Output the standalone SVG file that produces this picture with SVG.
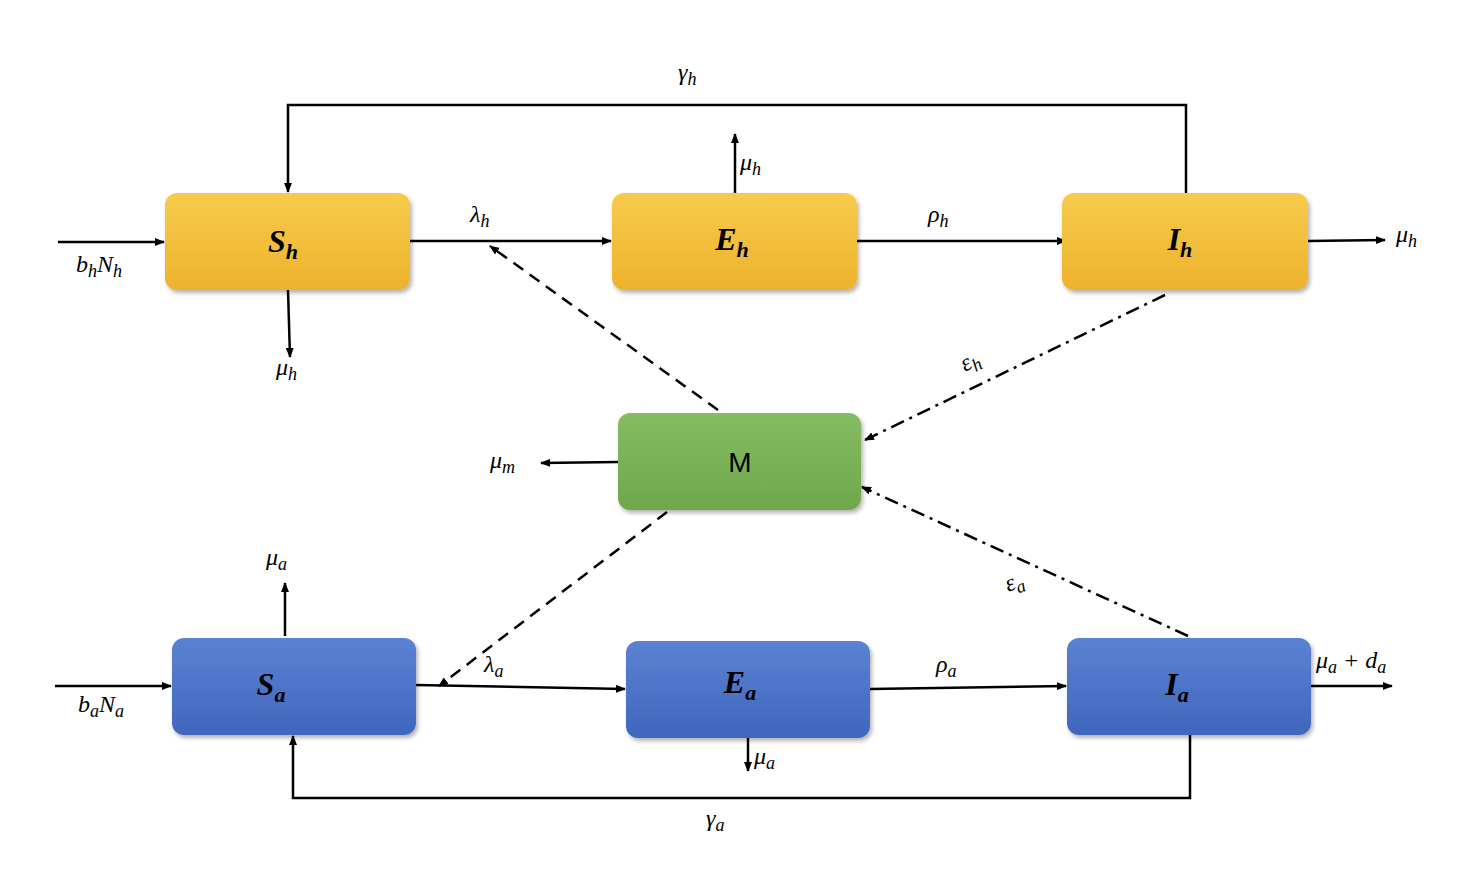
<svg xmlns="http://www.w3.org/2000/svg" width="1472" height="888" viewBox="0 0 1472 888">
<defs>
<linearGradient id="gy" x1="0" y1="0" x2="0" y2="1"><stop offset="0" stop-color="#F8CB4C"/><stop offset="1" stop-color="#ECB22C"/></linearGradient>
<linearGradient id="gb" x1="0" y1="0" x2="0" y2="1"><stop offset="0" stop-color="#5B82D2"/><stop offset="1" stop-color="#3F66BD"/></linearGradient>
<linearGradient id="gg" x1="0" y1="0" x2="0" y2="1"><stop offset="0" stop-color="#86BC63"/><stop offset="1" stop-color="#6EA84C"/></linearGradient>
<marker id="a" markerWidth="10" markerHeight="8" refX="9" refY="4" orient="auto" markerUnits="userSpaceOnUse"><path d="M0,0 L10,4 L0,8 Z" fill="#000"/></marker>
<filter id="sh" x="-10%" y="-10%" width="120%" height="130%"><feDropShadow dx="2" dy="3" stdDeviation="2" flood-opacity="0.3"/></filter>
</defs>
<style>
.box{filter:url(#sh)}
.t{font-family:"Liberation Serif",serif;font-style:italic;font-size:24px;fill:#000}
.b{font-family:"Liberation Serif",serif;font-style:italic;font-weight:bold;font-size:32px;fill:#000;text-anchor:middle}
.l{stroke:#000;stroke-width:2.5;fill:none;marker-end:url(#a)}
.d{stroke-dasharray:12,8}
.dd{stroke-dasharray:14,6,3,6}
</style>
<g id="connectors">
<path class="l" d="M1186,193 V105 H288 V192"/>
<path class="l" d="M735,193 V134"/>
<path class="l" d="M288,290 L290,357"/>
<path class="l" d="M58,242 H164"/>
<path class="l" d="M410,241 H611"/>
<path class="l" d="M857,241 H1066"/>
<path class="l" d="M1308,241 L1385,240"/>
<path class="l d" d="M718,410 L490,246"/>
<path class="l dd" d="M1165,295 L865,440"/>
<path class="l" d="M618,462 L541,463"/>
<path class="l d" d="M667,512 L439,686"/>
<path class="l dd" d="M1188,636 L862,487"/>
<path class="l" d="M285,636 V583"/>
<path class="l" d="M55,686 H171"/>
<path class="l" d="M416,685 L625,689"/>
<path class="l" d="M748,738 V771"/>
<path class="l" d="M870,689 L1066,686"/>
<path class="l" d="M1311,686 H1392"/>
<path class="l" d="M1190,735 V798 H293 V736"/>
</g>
<g id="Sh"><rect class="box" x="165" y="193" width="245" height="97" rx="12" fill="url(#gy)"/><text class="b" x="283" y="252">S<tspan font-size="22" dy="7">h</tspan></text></g>
<g id="Eh"><rect class="box" x="612" y="193" width="245" height="97" rx="12" fill="url(#gy)"/><text class="b" x="732" y="250">E<tspan font-size="22" dy="7">h</tspan></text></g>
<g id="Ih"><rect class="box" x="1062" y="193" width="246" height="97" rx="12" fill="url(#gy)"/><text class="b" x="1180" y="250">I<tspan font-size="22" dy="7">h</tspan></text></g>
<g id="M"><rect class="box" x="618" y="413" width="243" height="97" rx="12" fill="url(#gg)"/><text x="740" y="472" font-family="Liberation Sans,sans-serif" font-size="28" text-anchor="middle">M</text></g>
<g id="Sa"><rect class="box" x="172" y="638" width="244" height="97" rx="12" fill="url(#gb)"/><text class="b" x="271" y="695">S<tspan font-size="22" dy="7">a</tspan></text></g>
<g id="Ea"><rect class="box" x="626" y="641" width="244" height="97" rx="12" fill="url(#gb)"/><text class="b" x="740" y="693">E<tspan font-size="22" dy="7">a</tspan></text></g>
<g id="Ia"><rect class="box" x="1067" y="638" width="244" height="97" rx="12" fill="url(#gb)"/><text class="b" x="1177" y="695">I<tspan font-size="22" dy="7">a</tspan></text></g>
<g id="labels">
<text class="t" x="678" y="80">γ<tspan font-size="18" dy="5">h</tspan></text>
<text class="t" x="740" y="170">μ<tspan font-size="18" dy="5">h</tspan></text>
<text class="t" x="276" y="375">μ<tspan font-size="18" dy="5">h</tspan></text>
<text class="t" x="76" y="272">b<tspan font-size="18" dy="5">h</tspan><tspan dy="-5">N</tspan><tspan font-size="18" dy="5">h</tspan></text>
<text class="t" x="470" y="222">λ<tspan font-size="18" dy="5">h</tspan></text>
<text class="t" x="928" y="222">ρ<tspan font-size="18" dy="5">h</tspan></text>
<text class="t" x="1396" y="242">μ<tspan font-size="18" dy="5">h</tspan></text>
<text class="t" x="0" y="0" transform="translate(965,372) rotate(-28)">ε<tspan font-size="18" dy="5">h</tspan></text>
<text class="t" x="490" y="468">μ<tspan font-size="18" dy="5">m</tspan></text>
<text class="t" x="0" y="0" transform="translate(1008,592) rotate(-20)">ε<tspan font-size="18" dy="5">a</tspan></text>
<text class="t" x="266" y="565">μ<tspan font-size="18" dy="5">a</tspan></text>
<text class="t" x="78" y="712">b<tspan font-size="18" dy="5">a</tspan><tspan dy="-5">N</tspan><tspan font-size="18" dy="5">a</tspan></text>
<text class="t" x="484" y="672">λ<tspan font-size="18" dy="5">a</tspan></text>
<text class="t" x="754" y="764">μ<tspan font-size="18" dy="5">a</tspan></text>
<text class="t" x="936" y="672">ρ<tspan font-size="18" dy="5">a</tspan></text>
<text class="t" x="1316" y="668">μ<tspan font-size="18" dy="5">a</tspan><tspan dy="-5"> + d</tspan><tspan font-size="18" dy="5">a</tspan></text>
<text class="t" x="706" y="826">γ<tspan font-size="18" dy="5">a</tspan></text>
</g>
</svg>
